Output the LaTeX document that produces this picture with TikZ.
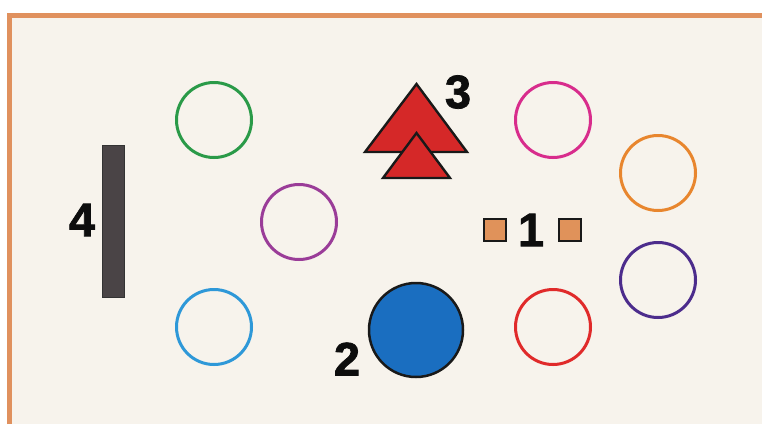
\documentclass[tikz,border=0pt]{standalone}
\usepackage{fontspec}
\setmainfont{Liberation Sans}
\newfontfamily\heavyfont[FakeBold=1.6]{Liberation Sans Bold}
\begin{document}
\begin{tikzpicture}[x=1pt,y=-1pt,
  ring/.style={circle,draw,line width=3pt,minimum size=75pt,inner sep=0pt},
  digit/.style={font=\fontsize{47}{47}\selectfont\heavyfont,inner sep=0pt,text=black!95},
  tri/.style={fill=cred!95!black,draw=black!90,line width=2.4pt,line join=miter},
  sq/.style={rectangle,draw=black!90,line width=2.2pt,minimum size=22pt,inner sep=0pt}]
\definecolor{frame}{HTML}{E0915E}
\definecolor{paper}{HTML}{F7F3EC}
\definecolor{cgreen}{HTML}{2A9A48}
\definecolor{cpurple}{HTML}{9A3C98}
\definecolor{clblue}{HTML}{2E98D8}
\definecolor{cmagenta}{HTML}{D82C8C}
\definecolor{corange}{HTML}{E8862E}
\definecolor{cindigo}{HTML}{4C2C8C}
\definecolor{cred}{HTML}{E02A2A}
\definecolor{dblue}{HTML}{1A6EC0}
\definecolor{bar}{HTML}{4A4446}
\definecolor{sqfill}{HTML}{E0925A}
\useasboundingbox (0,0) rectangle (762,424);
\fill[white] (0,0) rectangle (762,424);
\fill[paper] (7,13) rectangle (762,424);
\draw[frame,line width=5pt] (9.5,424) -- (9.5,15.5) -- (762,15.5);
% rings
\node[ring,draw=cgreen] (g) at (214,120) {};
\node[ring,draw=cpurple] (p) at (299,222) {};
\node[ring,draw=clblue] (lb) at (214,327) {};
\node[ring,draw=cmagenta] (m) at (553,120) {};
\node[ring,draw=corange] (o) at (658,173) {};
\node[ring,draw=cindigo] (ind) at (658,280) {};
\node[ring,draw=cred] (r) at (553,327) {};
% big blue disc
\node[circle,fill=dblue,draw=black!90,line width=2.5pt,minimum size=94pt,inner sep=0pt] (disc) at (416,330) {};
\node[digit] (n2) at (347,359) {2};
% triangles
\draw[tri] (416.5,84) -- (467,152) -- (365,152) -- cycle;
\draw[tri] (416.5,133) -- (450,178) -- (383,178) -- cycle;
\node[digit] (n3) at (458,92) {3};
% squares
\node[sq,fill=sqfill] (s1) at (495,230) {};
\node[sq,fill=sqfill] (s2) at (570,230) {};
\node[digit] (n1) at (531,230) {1};
% bar
\node[rectangle,fill=bar,draw=black!80,line width=1pt,minimum width=22pt,minimum height=152pt,inner sep=0pt] (b) at (113.5,221.5) {};
\node[digit] (n4) at (82,220) {4};
\end{tikzpicture}
\end{document}
